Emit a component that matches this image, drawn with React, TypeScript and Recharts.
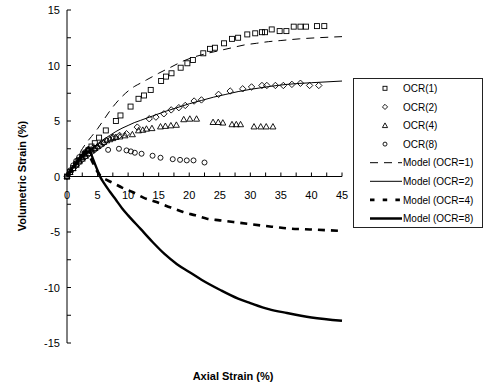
import { ComposedChart, Line, Scatter, XAxis, YAxis, ReferenceLine, Legend } from 'recharts'

// measured points (axial strain %, volumetric strain %)
const ocr1Strain = [0, 0.5, 1, 1.5, 2, 2.5, 3, 3.5, 4, 4.55, 5.25, 6.35, 8.0, 8.75, 10.4, 11.7, 12.6, 13.7, 15.4, 16.2, 17.1, 18.6, 19.7, 20.6, 22.3, 23.4, 24.2, 25.7, 27.0, 28.0, 29.5, 30.8, 31.9, 32.4, 33.5, 34.8, 35.9, 37.1, 38.2, 39.1, 40.9, 42.1]
const ocr1Vol = [0, 0.4, 0.75, 1.1, 1.45, 1.75, 2.05, 2.35, 2.7, 3.0, 3.5, 4.15, 5.0, 5.5, 6.3, 7.0, 7.3, 7.8, 8.6, 9.0, 9.3, 9.8, 10.2, 10.5, 11.1, 11.5, 11.6, 12.0, 12.4, 12.5, 12.8, 12.9, 13.0, 13.0, 13.25, 13.1, 13.1, 13.5, 13.5, 13.5, 13.55, 13.55]

const ocr2Strain = [0, 0.5, 1, 1.5, 2, 2.5, 3, 3.5, 4, 4.5, 5, 5.5, 6, 6.45, 7.55, 8.6, 9.74, 11.5, 13.45, 14.55, 15.85, 17.05, 18.3, 19.35, 20.8, 22.0, 24.8, 26.7, 28.75, 30.2, 31.9, 32.7, 34.1, 35.4, 36.8, 38.2, 39.7, 41.2]
const ocr2Vol = [0, 0.35, 0.7, 1.0, 1.3, 1.55, 1.8, 2.0, 2.2, 2.4, 2.6, 2.8, 3.0, 3.25, 3.55, 3.7, 3.85, 4.45, 5.2, 5.35, 5.65, 6.0, 6.2, 6.4, 6.8, 6.9, 7.4, 7.7, 7.9, 8.07, 8.2, 8.2, 8.2, 8.2, 8.3, 8.4, 8.2, 8.2]

const ocr4Strain = [0, 0.5, 1, 1.5, 2, 2.5, 3, 3.5, 4, 4.5, 5, 5.5, 6, 6.5, 7, 7.5, 8, 8.65, 9.5, 10.7, 11.7, 12.4, 13.0, 13.9, 15.3, 16.1, 17.0, 17.9, 19.1, 20.1, 21.2, 23.9, 24.75, 25.5, 27.0, 27.7, 28.4, 30.6, 31.7, 32.6, 33.7]
const ocr4Vol = [0, 0.4, 0.75, 1.05, 1.35, 1.6, 1.85, 2.1, 2.35, 2.55, 2.75, 2.95, 3.1, 3.25, 3.35, 3.45, 3.55, 3.6, 3.7, 3.8, 4.15, 4.2, 4.3, 4.35, 4.5, 4.55, 4.6, 4.65, 5.15, 5.2, 5.2, 4.9, 4.9, 4.85, 4.7, 4.7, 4.7, 4.5, 4.5, 4.5, 4.5]

const ocr8Strain = [0, 0.5, 1, 1.5, 2, 2.5, 3, 3.5, 4, 4.6, 6.73, 8.5, 9.74, 10.45, 11.1, 12.2, 14.0, 15.3, 17.3, 18.5, 19.6, 20.7, 22.5]
const ocr8Vol = [0, 0.55, 1.0, 1.4, 1.75, 2.0, 2.2, 2.35, 2.45, 2.5, 2.4, 2.5, 2.35, 2.26, 2.14, 2.05, 1.87, 1.69, 1.56, 1.5, 1.45, 1.45, 1.26]

// model curves
const model1Strain = [0, 1, 2, 3, 4, 5, 6, 7, 8, 9, 10, 11, 12, 13, 14, 15, 17, 19, 21, 23, 25, 27, 29, 31, 33, 35, 38, 41, 45]
const model1Vol = [0, 1.1, 2.05, 2.9, 3.6, 4.3, 5.1, 5.9, 6.6, 7.2, 7.7, 8.1, 8.4, 8.7, 9.0, 9.3, 9.85, 10.4, 10.8, 11.1, 11.35, 11.6, 11.85, 12.0, 12.15, 12.25, 12.4, 12.5, 12.6]

const model2Strain = [0, 1, 2, 3, 4, 5, 6, 7, 8, 9, 10, 11, 12, 13, 14, 16, 18, 20, 22, 24, 26, 28, 30, 33, 36, 40, 45]
const model2Vol = [0, 0.75, 1.45, 2.0, 2.5, 2.95, 3.35, 3.7, 4.05, 4.35, 4.6, 4.85, 5.05, 5.25, 5.45, 5.85, 6.2, 6.55, 6.85, 7.15, 7.4, 7.65, 7.85, 8.1, 8.3, 8.45, 8.6]

const model4Strain = [0, 1, 2, 3, 3.3, 4, 5, 5.5, 6.5, 7.8, 9, 10.8, 12.5, 14.65, 17, 19, 21, 22.9, 25, 27.2, 29.5, 31.6, 34, 36.5, 39, 40.9, 43, 45]
const model4Vol = [0, 0.75, 1.45, 2.05, 2.2, 1.5, 0.4, 0.05, -0.3, -0.66, -1.0, -1.42, -1.9, -2.3, -2.8, -3.2, -3.5, -3.8, -3.95, -4.1, -4.25, -4.4, -4.55, -4.7, -4.75, -4.8, -4.85, -4.9]

const model8Strain = [0, 1, 2, 3, 3.5, 4, 5, 5.5, 6, 7, 8, 9, 10, 12, 14, 16, 18, 20, 22, 25, 28, 30, 33, 36, 40, 45]
const model8Vol = [0, 0.85, 1.65, 2.3, 2.65, 1.95, 0.55, -0.1, -0.55, -1.35, -2.1, -2.85, -3.5, -4.7, -5.9, -7.0, -7.9, -8.6, -9.3, -10.2, -11.0, -11.4, -11.95, -12.3, -12.7, -13.0]

const xTicks = [0, 2.5, 5, 7.5, 10, 12.5, 15, 17.5, 20, 22.5, 25, 27.5, 30, 32.5, 35, 37.5, 40, 42.5, 45]
const yTicks = [-15, -12.5, -10, -7.5, -5, -2.5, 0, 2.5, 5, 7.5, 10, 12.5, 15]

const toPoints = (xs: number[], ys: number[]) => xs.map((x, i) => ({ x, y: ys[i] }))

const W = 483
const H = 390
const MARGIN = { top: 10, right: 141, bottom: 27, left: 27 }
const Y_AXIS_W = 40
const X_AXIS_H = 20
const PLOT_LEFT = MARGIN.left + Y_AXIS_W
const PLOT_H = H - MARGIN.top - MARGIN.bottom - X_AXIS_H
const ZERO_Y = MARGIN.top + PLOT_H / 2
const FONT = '"Liberation Sans", Arial, sans-serif'

const SquareMark = ({ cx, cy, s = 5 }: any) => (
  <rect x={cx - s / 2} y={cy - s / 2} width={s} height={s} fill="none" stroke="#000" strokeWidth={0.9} />
)
const DiamondMark = ({ cx, cy, s = 3.2 }: any) => (
  <polygon points={`${cx},${cy - s} ${cx + s},${cy} ${cx},${cy + s} ${cx - s},${cy}`} fill="none" stroke="#000" strokeWidth={0.9} />
)
const TriangleMark = ({ cx, cy, s = 3 }: any) => (
  <polygon points={`${cx},${cy - s} ${cx + s},${cy + s * 0.8} ${cx - s},${cy + s * 0.8}`} fill="none" stroke="#000" strokeWidth={0.9} />
)
const CircleMark = ({ cx, cy, s = 2.5 }: any) => (
  <circle cx={cx} cy={cy} r={s} fill="none" stroke="#000" strokeWidth={0.9} />
)

const XTick = ({ x, payload }: any) => {
  const v = payload.value
  return (
    <g>
      <line x1={x} x2={x} y1={ZERO_Y} y2={ZERO_Y - 4} stroke="#000" />
      {v % 5 === 0 && (
        <text x={x} y={ZERO_Y + 22} textAnchor="middle" fontSize={11} fontFamily={FONT} fill="#000">
          {v}
        </text>
      )}
    </g>
  )
}

const YTick = ({ y, payload }: any) => {
  const v = payload.value
  return (
    <g>
      <line x1={PLOT_LEFT} x2={PLOT_LEFT + 4} y1={y} y2={y} stroke="#000" />
      {v % 5 === 0 && (
        <text x={PLOT_LEFT - 7} y={y + 4} textAnchor="end" fontSize={11} fontFamily={FONT} fill="#000">
          {v}
        </text>
      )}
    </g>
  )
}

const legendRows = [
  { name: 'OCR(1)', mark: SquareMark },
  { name: 'OCR(2)', mark: DiamondMark },
  { name: 'OCR(4)', mark: TriangleMark },
  { name: 'OCR(8)', mark: CircleMark },
  { name: 'Model (OCR=1)', stroke: 1, dash: '8 6' },
  { name: 'Model (OCR=2)', stroke: 1, dash: undefined },
  { name: 'Model (OCR=4)', stroke: 2.8, dash: '4.5 8.2' },
  { name: 'Model (OCR=8)', stroke: 2.5, dash: undefined },
]

const LegendBox = () => (
  <div style={{ width: 130, height: 150, border: '1px solid #222', boxSizing: 'border-box', background: '#fff' }}>
    <svg width={128} height={148}>
      {legendRows.map((r, i) => {
        const cy = 9.3 + i * 18.6
        const Mark = r.mark as any
        return (
          <g key={r.name}>
            {Mark ? (
              <Mark cx={31} cy={cy} s={r.name === 'OCR(8)' ? 2 : r.name === 'OCR(1)' ? 4 : 2.6} />
            ) : (
              <line x1={16} x2={48} y1={cy} y2={cy} stroke="#000" strokeWidth={r.stroke} strokeDasharray={r.dash} />
            )}
            <text x={49} y={cy + 3.6} fontSize={10} fontFamily={FONT} fill="#000">
              {r.name}
            </text>
          </g>
        )
      })}
    </svg>
  </div>
)

export default function App() {
  return (
    <div style={{ position: 'absolute', left: 0, top: 0, width: W, height: H, background: '#fff' }}>
      <ComposedChart width={W} height={H} margin={MARGIN}>
        <XAxis
          type="number"
          dataKey="x"
          domain={[0, 45]}
          ticks={xTicks}
          interval={0}
          height={X_AXIS_H}
          axisLine={false}
          tickLine={false}
          tick={<XTick />}
          label={{
            content: () => (
              <text x={233} y={380} textAnchor="middle" fontSize={11} fontWeight="bold" fontFamily={FONT} fill="#000">
                Axial Strain (%)
              </text>
            ),
          }}
        />
        <YAxis
          type="number"
          domain={[-15, 15]}
          ticks={yTicks}
          interval={0}
          width={Y_AXIS_W}
          axisLine={{ stroke: '#000' }}
          tickLine={false}
          tick={<YTick />}
          label={{
            content: () => (
              <text
                x={26}
                y={176}
                transform="rotate(-90 26 176)"
                textAnchor="middle"
                fontSize={11}
                fontWeight="bold"
                fontFamily={FONT}
                fill="#000"
              >
                Volumetric Strain (%)
              </text>
            ),
          }}
        />
        <ReferenceLine y={0} stroke="#000" />
        <Line data={toPoints(model1Strain, model1Vol)} dataKey="y" type="monotone" stroke="#000" strokeWidth={1} strokeDasharray="8 6" dot={false} isAnimationActive={false} />
        <Line data={toPoints(model2Strain, model2Vol)} dataKey="y" type="monotone" stroke="#000" strokeWidth={1} dot={false} isAnimationActive={false} />
        <Line data={toPoints(model4Strain, model4Vol)} dataKey="y" type="monotone" stroke="#000" strokeWidth={2.6} strokeDasharray="7 6" dot={false} isAnimationActive={false} />
        <Line data={toPoints(model8Strain, model8Vol)} dataKey="y" type="monotone" stroke="#000" strokeWidth={2.4} dot={false} isAnimationActive={false} />
        <Scatter data={toPoints(ocr1Strain, ocr1Vol)} dataKey="y" shape={(p: any) => <SquareMark cx={p.cx} cy={p.cy} />} isAnimationActive={false} />
        <Scatter data={toPoints(ocr2Strain, ocr2Vol)} dataKey="y" shape={(p: any) => <DiamondMark cx={p.cx} cy={p.cy} />} isAnimationActive={false} />
        <Scatter data={toPoints(ocr4Strain, ocr4Vol)} dataKey="y" shape={(p: any) => <TriangleMark cx={p.cx} cy={p.cy} />} isAnimationActive={false} />
        <Scatter data={toPoints(ocr8Strain, ocr8Vol)} dataKey="y" shape={(p: any) => <CircleMark cx={p.cx} cy={p.cy} />} isAnimationActive={false} />
        <Legend
          layout="vertical"
          align="center"
          verticalAlign="middle"
          content={() => <LegendBox />}
          wrapperStyle={{ left: 353, top: 78, width: 130, height: 150 }}
        />
      </ComposedChart>
    </div>
  )
}
